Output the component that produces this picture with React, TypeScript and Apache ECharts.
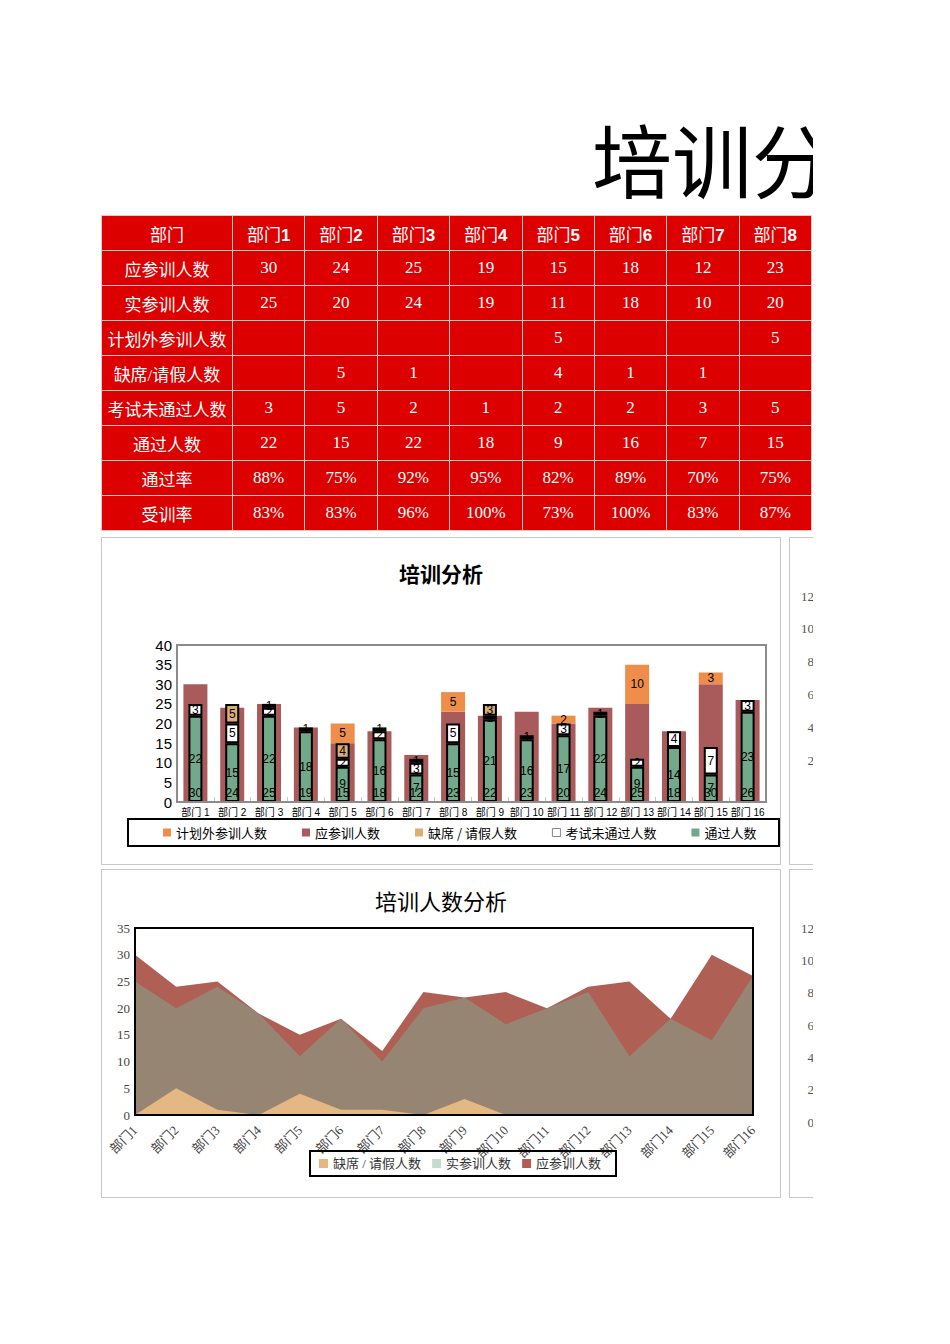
import React, { useEffect, useRef } from "react";
import * as echarts from "echarts";

const departments = [
	"部门1", "部门2", "部门3", "部门4", "部门5", "部门6", "部门7", "部门8",
	"部门9", "部门10", "部门11", "部门12", "部门13", "部门14", "部门15", "部门16",
];
const planned = [30, 24, 25, 19, 15, 18, 12, 23, 22, 23, 20, 24, 25, 18, 30, 26]; // 应参训人数
const attended = [25, 20, 24, 19, 11, 18, 10, 20, 22, 17, 20, 23, 11, 18, 14, 26]; // 实参训人数
const unplanned = [0, 0, 0, 0, 5, 0, 0, 5, 0, 0, 2, 0, 10, 0, 3, 0]; // 计划外参训人数
const absent = [0, 5, 1, 0, 4, 1, 1, 0, 3, 0, 0, 0, 0, 0, 0, 0]; // 缺席/请假人数
const failed = [3, 5, 2, 1, 2, 2, 3, 5, 1, 1, 3, 1, 2, 4, 7, 3]; // 考试未通过人数
const passed = [22, 15, 22, 18, 9, 16, 7, 15, 21, 16, 17, 22, 9, 14, 7, 23]; // 通过人数
const passRate = ["88%", "75%", "92%", "95%", "82%", "89%", "70%", "75%"];
const trainRate = ["83%", "83%", "96%", "100%", "73%", "100%", "83%", "87%"];
const tableCols = 8;

const serif = "'Liberation Serif', 'DejaVu Serif', 'Noto Sans CJK SC', serif";
const sans = "'Liberation Sans', Arial, 'Noto Sans CJK SC', sans-serif";
const cjk = "'Noto Sans CJK SC', sans-serif";

const nz = (arr: number[]) => arr.map((v) => (v === 0 ? null : v));

function useChart(option: any) {
	const ref = useRef<HTMLDivElement>(null);
	useEffect(() => {
		if (!ref.current) return;
		const chart = echarts.init(ref.current, undefined, { renderer: "svg" });
		chart.setOption(option);
		return () => chart.dispose();
	}, []);
	return ref;
}

const barLabel = { show: true, position: "inside", color: "#000", fontSize: 12, fontFamily: sans };

const trainingOption = {
	animation: false,
	title: {
		text: "培训分析",
		left: "center",
		top: 19,
		textStyle: { fontFamily: cjk, fontSize: 21, fontWeight: "bold", color: "#000" },
	},
	grid: { left: 75, right: 14, top: 107, bottom: 62 },
	xAxis: [
		{
			type: "category",
			data: departments,
			axisLine: { show: false },
			axisTick: { show: true, inside: true, length: 5, lineStyle: { color: "#c8c8c8" } },
			axisLabel: {
				interval: 0,
				fontSize: 10,
				color: "#000",
				fontFamily: sans,
				margin: 5,
				formatter: (v: string) => v.replace("部门", "部门 "),
			},
		},
		{ type: "category", data: departments, show: false },
	],
	yAxis: {
		type: "value",
		min: 0,
		max: 40,
		interval: 5,
		splitLine: { show: false },
		axisLine: { show: false },
		axisTick: { show: false },
		axisLabel: { fontSize: 15, color: "#000", fontFamily: sans, margin: 5 },
	},
	legend: {
		left: 56,
		top: 283,
		itemWidth: 8,
		itemHeight: 8,
		itemGap: 35,
		icon: "rect",
		itemStyle: { borderWidth: 0 },
		textStyle: { fontSize: 13, color: "#000", fontFamily: cjk },
		data: [
			"计划外参训人数",
			"应参训人数",
			"缺席 / 请假人数",
			{ name: "考试未通过人数", itemStyle: { borderColor: "#888", borderWidth: 1 } },
			"通过人数",
		],
	},
	graphic: [
		{
			type: "rect",
			z: 100,
			shape: { x: 75, y: 107, width: 589, height: 157 },
			style: { fill: "none", stroke: "#8c8c8c", lineWidth: 2 },
		},
		{
			type: "rect",
			z: 100,
			shape: { x: 26, y: 281, width: 651, height: 27 },
			style: { fill: "none", stroke: "#000", lineWidth: 2 },
		},
	],
	series: [
		{
			name: "应参训人数",
			type: "bar",
			xAxisIndex: 0,
			stack: "wide",
			barWidth: 24,
			data: planned,
			itemStyle: { color: "#a95b5b" },
			label: { ...barLabel, position: "insideBottom", distance: 3 },
		},
		{
			name: "计划外参训人数",
			type: "bar",
			xAxisIndex: 0,
			stack: "wide",
			barWidth: 24,
			data: nz(unplanned),
			itemStyle: { color: "#ef8e4a" },
			label: barLabel,
		},
		{
			name: "通过人数",
			type: "bar",
			xAxisIndex: 1,
			stack: "narrow",
			barWidth: 14,
			data: passed,
			itemStyle: { color: "#72a98a", borderColor: "#000", borderWidth: 2 },
			label: barLabel,
		},
		{
			name: "考试未通过人数",
			type: "bar",
			xAxisIndex: 1,
			stack: "narrow",
			barWidth: 14,
			data: nz(failed),
			itemStyle: { color: "#ffffff", borderColor: "#000", borderWidth: 2 },
			label: barLabel,
		},
		{
			name: "缺席 / 请假人数",
			type: "bar",
			xAxisIndex: 1,
			stack: "narrow",
			barWidth: 14,
			data: nz(absent),
			itemStyle: { color: "#dcad74", borderColor: "#000", borderWidth: 2 },
			label: barLabel,
		},
	],
};

const areaSeries = (name: string, data: number[], color: string) => ({
	name,
	type: "line",
	data,
	symbol: "none",
	lineStyle: { width: 0 },
	itemStyle: { color },
	areaStyle: { color, opacity: 1 },
});

const peopleOption = {
	animation: false,
	title: {
		text: "培训人数分析",
		left: "center",
		top: 14,
		textStyle: { fontFamily: cjk, fontSize: 22, fontWeight: "normal", color: "#000" },
	},
	grid: { left: 33, right: 27, top: 58, bottom: 82 },
	xAxis: {
		type: "category",
		boundaryGap: false,
		data: departments,
		axisLine: { show: false },
		axisTick: { show: false },
		axisLabel: { interval: 0, rotate: 45, fontSize: 13, fontFamily: serif, color: "#444", margin: 13 },
	},
	yAxis: {
		type: "value",
		min: 0,
		max: 35,
		interval: 5,
		splitLine: { show: false },
		axisLine: { show: false },
		axisTick: { show: false },
		axisLabel: { fontSize: 13, fontFamily: serif, color: "#444", margin: 5 },
	},
	legend: {
		left: 212,
		top: 282,
		itemWidth: 9,
		itemHeight: 9,
		itemGap: 11,
		icon: "rect",
		textStyle: { fontFamily: serif, fontSize: 13, color: "#333" },
		data: [
			"缺席 / 请假人数",
			{ name: "实参训人数", itemStyle: { color: "#c3dccd" } },
			"应参训人数",
		],
	},
	graphic: [
		{
			type: "rect",
			z: 100,
			shape: { x: 33, y: 58, width: 618, height: 187 },
			style: { fill: "none", stroke: "#000", lineWidth: 2 },
		},
		{
			type: "rect",
			z: 100,
			shape: { x: 208, y: 281, width: 306, height: 25 },
			style: { fill: "none", stroke: "#000", lineWidth: 2 },
		},
	],
	series: [
		areaSeries("应参训人数", planned, "#b05f55"),
		areaSeries("实参训人数", attended, "#978574"),
		areaSeries("缺席 / 请假人数", absent, "#e3b882"),
	],
};

const sideOption = (bottom: number, showZero: boolean) => ({
	animation: false,
	grid: { left: 30, right: 10, top: 58, bottom },
	xAxis: { type: "category", data: [""], show: false },
	yAxis: {
		type: "value",
		min: 0,
		max: 12,
		interval: 2,
		splitLine: { show: false },
		axisLine: { show: false },
		axisTick: { show: false },
		axisLabel: {
			fontSize: 13,
			fontFamily: serif,
			color: "#555",
			margin: 6,
			formatter: (v: number) => (v === 0 && !showZero ? "" : String(v)),
		},
	},
	series: [{ type: "bar", data: [] }],
});

const panel = (left: number, top: number, width: number, height: number): React.CSSProperties => ({
	position: "absolute",
	left,
	top,
	width,
	height,
	border: "1px solid #c8c8c8",
	background: "#fff",
});

function Table() {
	const cell: React.CSSProperties = {
		border: "1px solid #f3c4c4",
		height: 34,
		padding: 0,
		textAlign: "center",
		whiteSpace: "nowrap",
	};
	const show = (v: number) => (v === 0 ? "" : String(v));
	const rows: [string, string[]][] = [
		["应参训人数", planned.slice(0, tableCols).map(String)],
		["实参训人数", attended.slice(0, tableCols).map(String)],
		["计划外参训人数", unplanned.slice(0, tableCols).map(show)],
		["缺席/请假人数", absent.slice(0, tableCols).map(show)],
		["考试未通过人数", failed.slice(0, tableCols).map(String)],
		["通过人数", passed.slice(0, tableCols).map(String)],
		["通过率", passRate],
		["受训率", trainRate],
	];
	return (
		<table
			style={{
				position: "absolute",
				left: 93,
				top: 207,
				width: 711,
				borderCollapse: "collapse",
				tableLayout: "fixed",
				background: "#dc0000",
				color: "#fff",
				fontFamily: serif,
				fontSize: 17,
			}}
		>
			<colgroup>
				<col style={{ width: 131 }} />
				{departments.slice(0, tableCols).map((d) => (
					<col key={d} />
				))}
			</colgroup>
			<tbody>
				<tr>
					<td style={cell}>部门</td>
					{departments.slice(0, tableCols).map((d) => (
						<td key={d} style={cell}>
							部门<b style={{ fontFamily: sans }}>{d.replace("部门", "")}</b>
						</td>
					))}
				</tr>
				{rows.map(([label, vals]) => (
					<tr key={label}>
						<td style={cell}>{label}</td>
						{vals.map((v, i) => (
							<td key={i} style={cell}>
								{v}
							</td>
						))}
					</tr>
				))}
			</tbody>
		</table>
	);
}

export default function App() {
	const trainingRef = useChart(trainingOption);
	const peopleRef = useChart(peopleOption);
	const sideTopRef = useChart(sideOption(71, false));
	const sideBottomRef = useChart(sideOption(75, true));

	return (
		<div style={{ position: "relative", width: 805, height: 1336, overflow: "hidden", background: "#fff" }}>
			<div
				style={{
					position: "absolute",
					left: 584,
					top: 109,
					fontFamily: cjk,
					fontSize: 80,
					lineHeight: "80px",
					whiteSpace: "nowrap",
					color: "#000",
				}}
			>
				培训分析表
			</div>
			<Table />
			<div style={panel(93, 529, 678, 326)}>
				<div ref={trainingRef} style={{ width: 678, height: 326 }} />
			</div>
			<div style={panel(781, 529, 300, 326)}>
				<div ref={sideTopRef} style={{ width: 300, height: 326 }} />
			</div>
			<div style={panel(93, 861, 678, 327)}>
				<div ref={peopleRef} style={{ width: 678, height: 327 }} />
			</div>
			<div style={panel(781, 861, 300, 327)}>
				<div ref={sideBottomRef} style={{ width: 300, height: 327 }} />
			</div>
		</div>
	);
}
